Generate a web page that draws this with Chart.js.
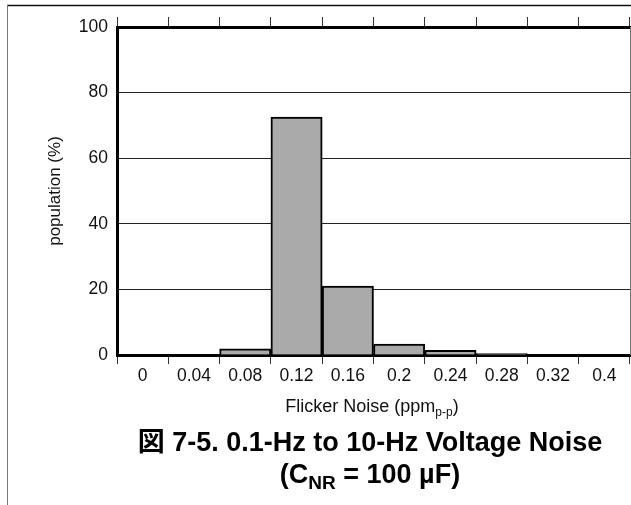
<!DOCTYPE html>
<html>
<head>
<meta charset="utf-8">
<script src="https://cdn.jsdelivr.net/npm/chart.js@4"></script>
<style>
  html, body { margin: 0; padding: 0; background: #fff; }
  #wrap { position: relative; width: 631px; height: 505px; font-family: "Liberation Sans", Arial, "Noto Sans CJK JP", sans-serif; }
  #chart { position: absolute; left: 0; top: 0; }
  .xtitle { position: absolute; left: 117px; width: 510px; top: 394px; text-align: center; font-size: 18px; line-height: 24px; color: #111; }
  .xtitle sub { font-size: 12px; vertical-align: -4px; }
  .caption { position: absolute; left: 100px; width: 540px; top: 426px; text-align: center; font-size: 27px; font-weight: bold; line-height: 32px; color: #000; }
  .caption sub { font-size: 19px; vertical-align: -6px; }
</style>
</head>
<body>
<div id="wrap">
  <canvas id="chart" width="631" height="505"></canvas>
  <div class="xtitle">Flicker Noise (ppm<sub>p-p</sub>)</div>
  <div class="caption">図 7-5. 0.1-Hz to 10-Hz Voltage Noise<br>(C<sub>NR</sub> = 100 µF)</div>
</div>
<script>
// bins of flicker noise (ppm p-p)
var noiseBins = ['0', '0.04', '0.08', '0.12', '0.16', '0.2', '0.24', '0.28', '0.32', '0.4'];
// population in each bin (%)
var population = [0, 0, 1.9, 72.5, 21, 3.3, 1.4, 0.4, 0, 0];
var yTicks = [0, 20, 40, 60, 80, 100];

// outer figure frame (top rule + left rule) and right edge of the plot
var framePlugin = {
    id: 'frame',
    afterDraw: function (chart) {
        var ctx = chart.ctx;
        var a = chart.chartArea;
        ctx.save();
        ctx.strokeStyle = '#111';
        ctx.lineWidth = 1.5;
        ctx.beginPath();
        ctx.moveTo(7, 5.5);
        ctx.lineTo(631, 5.5);
        ctx.stroke();
        ctx.strokeStyle = '#777';
        ctx.lineWidth = 1;
        ctx.beginPath();
        ctx.moveTo(7.5, 5);
        ctx.lineTo(7.5, 505);
        ctx.stroke();
        ctx.beginPath();
        ctx.moveTo(a.right + 0.5, a.top);
        ctx.lineTo(a.right + 0.5, a.bottom);
        ctx.stroke();
        ctx.restore();
    }
};

var ctx = document.getElementById('chart').getContext('2d');
var chart = new Chart(ctx, {
    type: 'bar',
    data: {
        labels: noiseBins,
        datasets: [{
            data: population,
            backgroundColor: '#aaaaaa',
            borderColor: '#000',
            borderWidth: 2,
            barPercentage: 1,
            categoryPercentage: 1,
            xAxisID: 'x',
            yAxisID: 'y'
        }]
    },
    options: {
        responsive: false,
        animation: false,
        layout: { padding: { left: 0, right: 1, top: 0, bottom: 0 } },
        plugins: {
            legend: { display: false },
            tooltip: { enabled: false }
        },
        scales: {
            x: {
                position: 'bottom',
                grid: { display: true, drawOnChartArea: false, offset: true, tickLength: 9, color: '#333', tickColor: '#333' },
                border: { display: true, color: '#000', width: 3 },
                ticks: {
                    color: '#111',
                    font: { family: 'Liberation Sans', size: 17.5 },
                    padding: 2,
                    maxRotation: 0,
                    autoSkip: false
                },
                afterFit: function (s) { s.height = 150; }
            },
            x2: {
                position: 'top',
                labels: noiseBins,
                grid: { display: true, drawOnChartArea: false, offset: true, tickLength: 10, color: '#333', tickColor: '#333' },
                border: { display: true, color: '#000', width: 3 },
                ticks: { display: false },
                afterFit: function (s) { s.height = 27; }
            },
            y: {
                min: 0,
                max: 100,
                afterBuildTicks: function (s) { s.ticks = yTicks.map(function (v) { return { value: v }; }); },
                grid: { color: '#222', lineWidth: 1, drawTicks: false },
                border: { display: true, color: '#000', width: 3 },
                ticks: {
                    color: '#111',
                    font: { family: 'Liberation Sans', size: 17.5 },
                    padding: 9
                },
                title: {
                    display: true,
                    text: 'population (%)',
                    color: '#111',
                    font: { family: 'Liberation Sans', size: 17 },
                    padding: { top: 45, bottom: 0 }
                },
                afterFit: function (s) { s.width = 117; }
            }
        }
    },
    plugins: [framePlugin]
});
</script>
</body>
</html>
